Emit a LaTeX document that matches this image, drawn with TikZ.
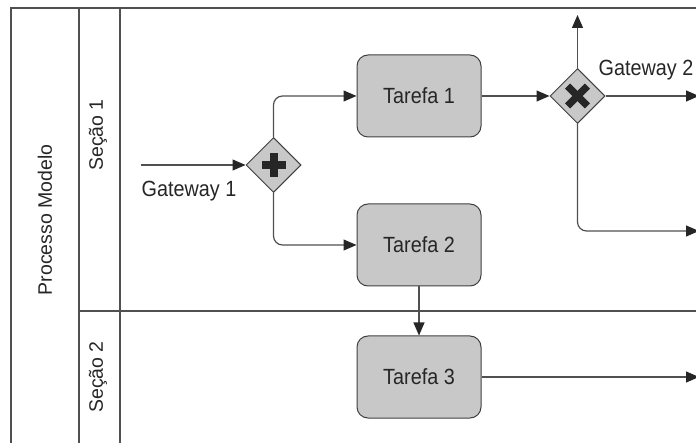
\documentclass[tikz,border=0pt]{standalone}
\usepackage{fontspec}
\setmainfont{Liberation Sans}
\newfontfamily\lblfont[FakeStretch=0.9]{Liberation Sans}
\usetikzlibrary{shapes.geometric,arrows.meta}
\definecolor{taskfill}{HTML}{C8C8C8}
\definecolor{edge}{HTML}{404040}
\definecolor{flow}{HTML}{505050}
\tikzset{
  tarefa/.style={draw=edge, line width=1pt, fill=taskfill, rounded corners=11pt,
    minimum width=124pt, minimum height=82pt, inner sep=0pt,
    font=\lblfont\fontsize{22}{24}\selectfont, text=black!85},
  gw/.style={draw=edge, line width=1pt, fill=taskfill, diamond, minimum width=55pt,
    minimum height=55pt, inner sep=0pt, aspect=1},
  lbl/.style={font=\lblfont\fontsize{22}{24}\selectfont, text=black!85, inner sep=0pt},
  lane/.style={font=\fontsize{19.5}{22}\selectfont, text=black!85, inner sep=0pt, rotate=90},
  pool/.style={draw=flow, line width=1.2pt},
  fl/.style={draw=flow, line width=1.2pt, rounded corners=9pt,
    -{Triangle[length=13pt,width=11pt,color=black!85]}},
  gwmark/.style={fill=black!85}
}
\begin{document}
\begin{tikzpicture}[x=1pt,y=-1pt]
\useasboundingbox (0,0) rectangle (696,443);
% pool and lanes
\draw[pool] (11,443) -- (11,8) -- (700,8);
\draw[pool] (79,8) -- (79,443);
\draw[pool] (120,8) -- (120,443);
\draw[pool] (79,311) -- (700,311);
\node[lane] (pname) at (45,220) {Processo Modelo};
\node[lane] (l1) at (98,135) {Seção 1};
\node[lane] (l2) at (98,377) {Seção 2};
% nodes
\node[tarefa] (t1) at (419,96) {Tarefa 1};
\node[tarefa] (t2) at (419,245) {Tarefa 2};
\node[tarefa] (t3) at (419,377) {Tarefa 3};
\node[gw] (g1) at (273.5,165) {};
\node[gw] (g2) at (577.5,96) {};
% gateway markers
\begin{scope}[shift={(g1)}]
\fill[gwmark] (-4,-12) rectangle (4,12);
\fill[gwmark] (-12,-4) rectangle (12,4);
\end{scope}
\begin{scope}[shift={(g2)}, rotate=45]
\fill[gwmark] (-3.6,-14) rectangle (3.6,14);
\fill[gwmark] (-14,-3.6) rectangle (14,3.6);
\end{scope}
\node[lbl] (gl1) at (189,191) {Gateway 1};
\node[lbl] (gl2) at (646,70) {Gateway 2};
% free ends
\coordinate (start) at (141,165);
\coordinate (up) at (577.5,15);
\coordinate (r1) at (699,96);
\coordinate (r2) at (699,231);
\coordinate (r3) at (699,377);
% flows
\draw[fl] (start) -- (g1.west);
\draw[fl] (g1.north) |- (t1.west);
\draw[fl] (g1.south) |- (t2.west);
\draw[fl] (t1.east) -- (g2.west);
\draw[fl] (g2.north) -- (up);
\draw[fl] (g2.east) -- (r1);
\draw[fl] (g2.south) |- (r2);
\draw[fl] (t2.south) -- (t3.north);
\draw[fl] (t3.east) -- (r3);
\end{tikzpicture}
\end{document}
